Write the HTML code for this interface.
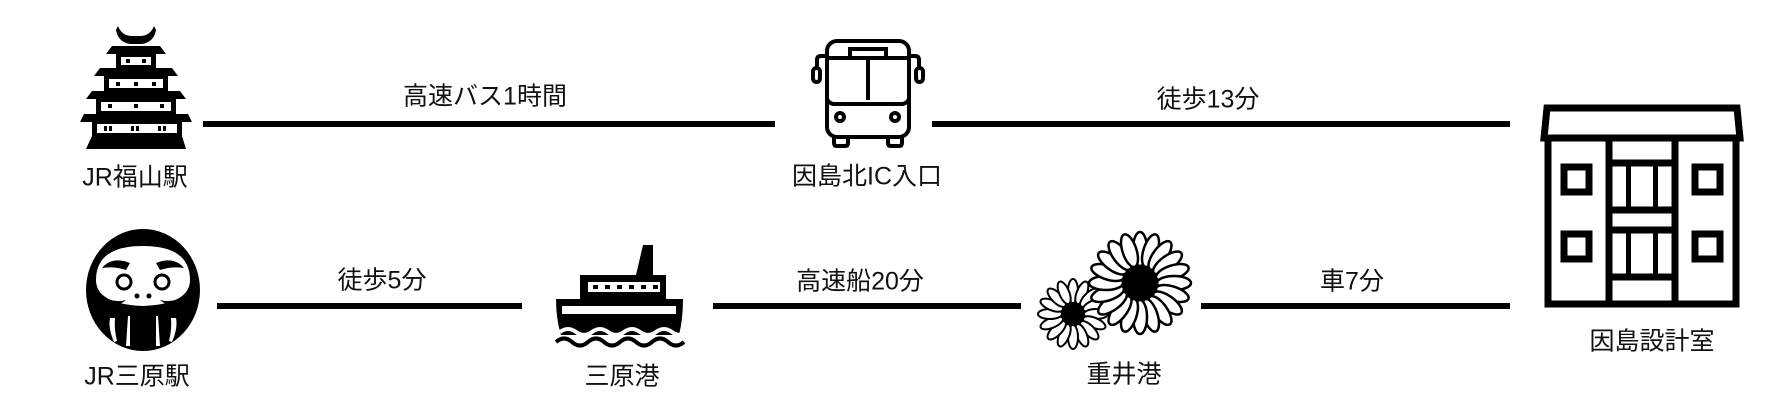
<!DOCTYPE html>
<html><head><meta charset="utf-8"><style>
html,body{margin:0;padding:0;background:#fff;}
body{width:1781px;height:414px;position:relative;overflow:hidden;font-family:"Liberation Sans","Noto Sans CJK JP",sans-serif;}
.t{position:absolute;font-size:25px;color:#111;transform:translate(-50%,-50%);white-space:nowrap;line-height:1;}
.l{position:absolute;height:6px;background:#000;}
svg{position:absolute;left:0;top:0;}
</style></head><body>
<div class="l" style="left:203px;top:121px;width:572px"></div>
<div class="l" style="left:932px;top:121px;width:578px"></div>
<div class="l" style="left:217px;top:303px;width:305px"></div>
<div class="l" style="left:713px;top:303px;width:308px"></div>
<div class="l" style="left:1201px;top:303px;width:309px"></div>

<div class="t" style="left:485px;top:97px">高速バス1時間</div>
<div class="t" style="left:1208px;top:100px">徒歩13分</div>
<div class="t" style="left:382px;top:281px">徒歩5分</div>
<div class="t" style="left:860px;top:282px">高速船20分</div>
<div class="t" style="left:1352px;top:282px">車7分</div>

<div class="t" style="left:135px;top:178px">JR福山駅</div>
<div class="t" style="left:867px;top:177px">因島北IC入口</div>
<div class="t" style="left:1652px;top:342px">因島設計室</div>
<div class="t" style="left:137px;top:377px">JR三原駅</div>
<div class="t" style="left:622px;top:377px">三原港</div>
<div class="t" style="left:1124px;top:375px">重井港</div>

<svg width="1781" height="414" viewBox="0 0 1781 414">
<!-- castle -->
<g fill="#000">
<path d="M118 26 q4 10 14 10 h8 q10 0 14 -10 l2 4 q-2 12 -14 14 h-12 q-12 -2 -14 -14z"/>
<polygon points="112,46 160,46 166,54 106,54"/>
<rect x="116" y="54" width="40" height="14"/>
<polygon points="100,68 172,68 178,76 94,76"/>
<rect x="104" y="76" width="64" height="15"/>
<polygon points="92,91 180,91 186,99 86,99"/>
<rect x="96" y="99" width="80" height="15"/>
<polygon points="84,114 188,114 192,122 80,122"/>
<rect x="92" y="122" width="90" height="14"/>
<polygon points="92,136 182,136 186,149 86,149"/>
</g>
<g fill="#fff">
<rect x="121" y="57" width="30" height="8"/>
<rect x="109" y="79" width="54" height="9"/>
<rect x="101" y="102" width="70" height="9"/>
<rect x="97" y="124" width="80" height="9"/>
</g>
<g fill="#000">
<rect x="126" y="59" width="4" height="4"/><rect x="142" y="59" width="4" height="4"/>
<rect x="116" y="82" width="4" height="4"/><rect x="134" y="82" width="4" height="4"/><rect x="152" y="82" width="4" height="4"/>
<rect x="108" y="104" width="4" height="4"/><rect x="134" y="104" width="4" height="4"/><rect x="160" y="104" width="4" height="4"/>
<rect x="104" y="126" width="3" height="5"/><rect x="109" y="126" width="3" height="5"/>
<rect x="131" y="126" width="3" height="5"/><rect x="136" y="126" width="3" height="5"/>
<rect x="158" y="126" width="3" height="5"/><rect x="163" y="126" width="3" height="5"/>
</g>

<!-- daruma -->
<ellipse cx="143" cy="290" rx="57" ry="61" fill="#000"/>
<path d="M96 280 q0-34 47-34 q47 0 47 34 q0 24-47 26 q-47-2-47-26z" fill="#fff"/>
<path d="M102 268 q10-12 28-5 l-4 7 q-12-4-24-2z" fill="#000"/>
<path d="M184 268 q-10-12-28-5 l4 7 q12-4 24-2z" fill="#000"/>
<circle cx="124" cy="282" r="7" fill="none" stroke="#000" stroke-width="3"/>
<circle cx="162" cy="282" r="7" fill="none" stroke="#000" stroke-width="3"/>
<path d="M100 294 q12 10 26 6 q-8 8-22 2z" fill="#000"/>
<path d="M186 294 q-12 10-26 6 q8 8 22 2z" fill="#000"/>
<circle cx="137" cy="296" r="2.5" fill="#000"/><circle cx="149" cy="296" r="2.5" fill="#000"/>
<g fill="#fff">
<path d="M110 318 q-2 10 4 24 l3-1 q-3-12-2-23z"/>
<path d="M128 316 l-2 30 h4 l0-30z"/>
<path d="M158 316 l2 30 h-4 l0-30z"/>
<path d="M176 318 q2 10-4 24 l-3-1 q3-12 2-23z"/>
</g>

<!-- bus -->
<g fill="none" stroke="#000" stroke-width="4">
<rect x="827" y="41" width="82" height="96" rx="10"/>
<path d="M827 58 h82 M827 98 q0 4 6 6 h70 q6-2 6-6 M868 58 v42"/>
<rect x="850" y="49" width="36" height="9"/>
<path d="M827 56 h-6 q-4 0-4 4 v8 M909 56 h6 q4 0 4 4 v8"/>
<rect x="813" y="68" width="7" height="14" rx="3.5"/>
<rect x="916" y="68" width="7" height="14" rx="3.5"/>
<circle cx="840" cy="117" r="4"/><circle cx="895" cy="117" r="4"/>
<path d="M834 137 v6 q0 3 3 3 h8 q3 0 3-3 v-6 M888 137 v6 q0 3 3 3 h8 q3 0 3-3 v-6"/>
</g>

<!-- ship -->
<g>
<polygon points="643,245 653,245 653,275 636,275" fill="#000"/>
<rect x="580" y="275" width="86" height="24" fill="#000"/>
<rect x="588" y="282" width="72" height="10" fill="#fff"/>
<g fill="#000"><rect x="593" y="285" width="5" height="4"/><rect x="605" y="285" width="5" height="4"/><rect x="617" y="285" width="5" height="4"/><rect x="629" y="285" width="5" height="4"/><rect x="641" y="285" width="5" height="4"/><rect x="653" y="285" width="5" height="4"/></g>
<path d="M556 299 h127 q0 20-4 36 h-118 q-5-16-5-36z" fill="#000"/>
<rect x="562" y="306" width="114" height="8" fill="#fff"/>
<path d="M560 332 q8-6 16 0 q8 6 16 0 q8-6 16 0 q8 6 16 0 q8-6 16 0 q8 6 16 0 q8-6 16 0 q8 6 16 0" fill="none" stroke="#fff" stroke-width="4"/>
<path d="M556 342 q8-7 16 0 q8 7 16 0 q8-7 16 0 q8 7 16 0 q8-7 16 0 q8 7 16 0 q8-7 16 0 q8 7 16 0" fill="none" stroke="#000" stroke-width="4"/>
</g>

<!-- flowers -->
<defs>
<ellipse id="pb" cx="0" cy="-34" rx="7" ry="17" fill="#fff" stroke="#000" stroke-width="2.5"/>
<ellipse id="ps" cx="0" cy="-23" rx="5" ry="12" fill="#fff" stroke="#000" stroke-width="2"/>
</defs>
<g transform="translate(1073,314)">
<use href="#ps" transform="rotate(0)"/><use href="#ps" transform="rotate(22.5)"/><use href="#ps" transform="rotate(45)"/><use href="#ps" transform="rotate(67.5)"/><use href="#ps" transform="rotate(90)"/><use href="#ps" transform="rotate(112.5)"/><use href="#ps" transform="rotate(135)"/><use href="#ps" transform="rotate(157.5)"/><use href="#ps" transform="rotate(180)"/><use href="#ps" transform="rotate(202.5)"/><use href="#ps" transform="rotate(225)"/><use href="#ps" transform="rotate(247.5)"/><use href="#ps" transform="rotate(270)"/><use href="#ps" transform="rotate(292.5)"/><use href="#ps" transform="rotate(315)"/><use href="#ps" transform="rotate(337.5)"/>
<circle r="12" fill="#000"/>
</g>
<g transform="translate(1140,283)">
<use href="#pb" transform="rotate(0)"/><use href="#pb" transform="rotate(18)"/><use href="#pb" transform="rotate(36)"/><use href="#pb" transform="rotate(54)"/><use href="#pb" transform="rotate(72)"/><use href="#pb" transform="rotate(90)"/><use href="#pb" transform="rotate(108)"/><use href="#pb" transform="rotate(126)"/><use href="#pb" transform="rotate(144)"/><use href="#pb" transform="rotate(162)"/><use href="#pb" transform="rotate(180)"/><use href="#pb" transform="rotate(198)"/><use href="#pb" transform="rotate(216)"/><use href="#pb" transform="rotate(234)"/><use href="#pb" transform="rotate(252)"/><use href="#pb" transform="rotate(270)"/><use href="#pb" transform="rotate(288)"/><use href="#pb" transform="rotate(306)"/><use href="#pb" transform="rotate(324)"/><use href="#pb" transform="rotate(342)"/>
<circle r="18" fill="#000"/>
</g>

<!-- building -->
<g fill="none" stroke="#000" stroke-width="7">
<polygon points="1547,108 1737,108 1740,138 1544,138" stroke-linejoin="miter"/>
<rect x="1548" y="138" width="188" height="166"/>
<path d="M1609 138 v166 M1675 138 v166"/>
<rect x="1564" y="167" width="25" height="25"/>
<rect x="1695" y="167" width="25" height="25"/>
<rect x="1564" y="234" width="25" height="25"/>
<rect x="1695" y="234" width="25" height="25"/>
<path d="M1609 163 h66 M1609 210 h66 M1609 230 h66 M1609 277 h66"/>
</g>
<g fill="#000">
<rect x="1626" y="163" width="5" height="47"/><rect x="1653" y="163" width="5" height="47"/>
<rect x="1626" y="230" width="5" height="47"/><rect x="1653" y="230" width="5" height="47"/>
</g>
</svg>
</body></html>
